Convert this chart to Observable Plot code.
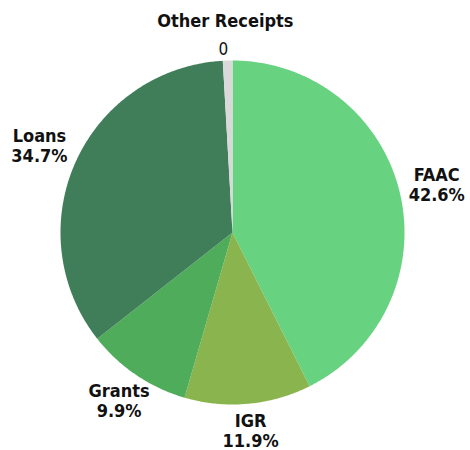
<!DOCTYPE html>
<html>
<head>
<meta charset="utf-8">
<script src="https://cdn.jsdelivr.net/npm/d3@7"></script>
<script src="https://cdn.jsdelivr.net/npm/@observablehq/plot@0.6"></script>
<style>
  html, body { margin: 0; padding: 0; background: #ffffff; }
  #chart { width: 470px; height: 450px; }
</style>
</head>
<body>
<div id="chart"></div>
<script>
// Data (clockwise from 12 o'clock)
const categories = ["FAAC", "IGR", "Grants", "Loans", "Other Receipts"];
const shares = [42.6, 11.9, 9.9, 34.7, 0.9];
const valueLabels = ["42.6%", "11.9%", "9.9%", "34.7%", "0"];
const colors = ["#67d381", "#8ab54e", "#4fac5a", "#407e5a", "#d9d9d9"];

const table = categories.map((c, i) => ({category: c, value: shares[i], label: valueLabels[i]}));
const pie = d3.pie().sort(null).value(d => d.value)(table);

// Slice outlines in unit-circle coordinates
const slicePts = [];
for (const p of pie) {
  const c = p.data.category;
  slicePts.push({category: c, x: 0, y: 0});
  const n = Math.max(2, Math.ceil((p.endAngle - p.startAngle) / 0.01));
  for (let k = 0; k <= n; k++) {
    const a = p.startAngle + (p.endAngle - p.startAngle) * k / n;
    slicePts.push({category: c, x: Math.sin(a), y: Math.cos(a)});
  }
}

const R = 172, cx = 232, cy = 232, W = 470, H = 450;
const FONT = "'DejaVu Sans Condensed', 'DejaVu Sans', sans-serif";
const FS = 18, LH = 1.12;

const ctx = document.createElement("canvas").getContext("2d");
ctx.font = `bold ${FS}px ${FONT}`;
const mid = p => (p.startAngle + p.endAngle) / 2;
const r0 = 181; // px from centre to label box edge
const mainLabels = pie.filter(p => p.data.category !== "Other Receipts").map(p => {
  const lines = [p.data.category, p.data.label];
  const hw = Math.max(...lines.map(s => ctx.measureText(s).width)) / 2;
  const hh = 18;
  const dx = Math.sin(mid(p)), dy = Math.cos(mid(p));
  const t = Math.min(Math.abs(dx) > 1e-6 ? hw / Math.abs(dx) : Infinity, Math.abs(dy) > 1e-6 ? hh / Math.abs(dy) : Infinity);
  const dist = (r0 + t) / R;
  return {x: dx * dist, y: dy * dist, text: lines.join("\n")};
});
const other = pie.find(p => p.data.category === "Other Receipts");
const otherPos = {x: Math.sin(mid(other)) * 1.065, y: Math.cos(mid(other)) * 1.065};
const otherValue = [{...otherPos, text: other.data.label}];
const otherName = [{...otherPos, text: other.data.category}];

const chart = Plot.plot({
  width: W,
  height: H,
  margin: 0,
  x: {domain: [-cx / R, (W - cx) / R], axis: null},
  y: {domain: [-(H - cy) / R, cy / R], axis: null},
  color: {domain: categories, range: colors},
  style: {fontFamily: FONT, background: "transparent"},
  marks: [
    Plot.line(slicePts, {x: "x", y: "y", z: "category", fill: "category", stroke: null, curve: "linear-closed"}),
    Plot.text(mainLabels, {x: "x", y: "y", text: "text", fontSize: FS, fontWeight: "bold", fill: "#111", lineHeight: LH}),
    Plot.text(otherValue, {x: "x", y: "y", text: "text", fontSize: 17, fill: "#111", dx: -4}),
    Plot.text(otherName, {x: "x", y: "y", text: "text", fontSize: FS, fontWeight: "bold", fill: "#111", dx: -2, dy: -28})
  ]
});
document.getElementById("chart").appendChild(chart);
</script>
</body>
</html>
